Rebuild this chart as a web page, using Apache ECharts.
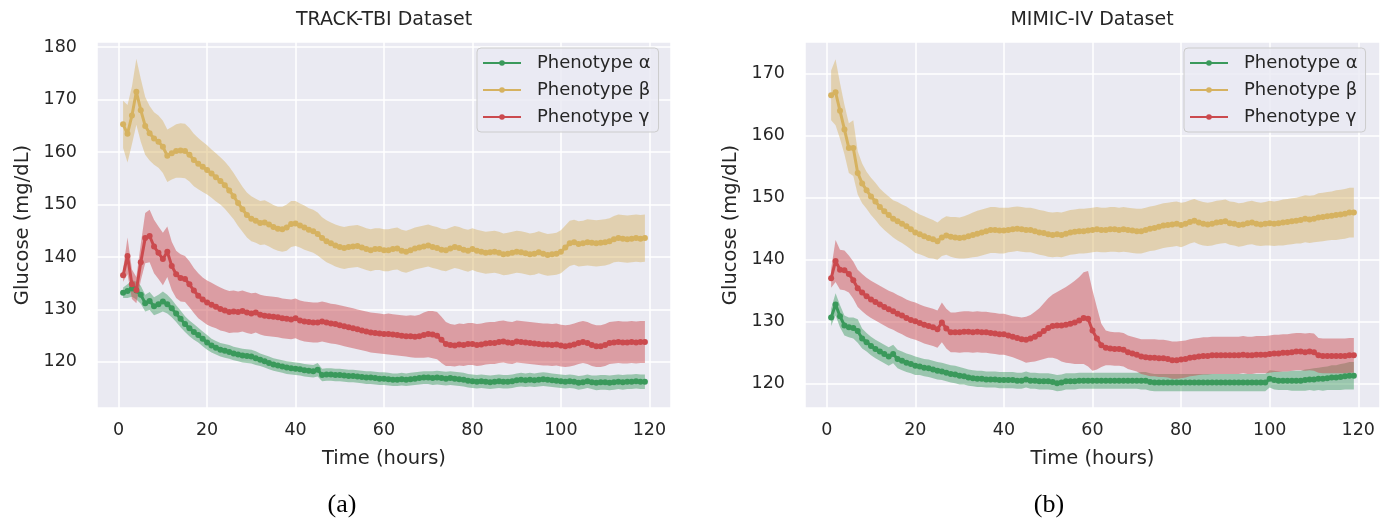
<!DOCTYPE html>
<html>
<head>
<meta charset="utf-8">
<script src="https://cdn.jsdelivr.net/npm/echarts@6/dist/echarts.min.js"></script>
<style>
  html, body { margin: 0; padding: 0; background: #ffffff; }
  #chart { width: 1386px; height: 525px; }
</style>
</head>
<body>
<div id="chart"></div>
<script>
// hours 1..119
const hours = [
  1, 2, 3, 4, 5, 6, 7, 8, 9, 10, 11, 12, 13, 14, 15, 16, 17, 18, 19, 20,
  21, 22, 23, 24, 25, 26, 27, 28, 29, 30, 31, 32, 33, 34, 35, 36, 37, 38, 39, 40,
  41, 42, 43, 44, 45, 46, 47, 48, 49, 50, 51, 52, 53, 54, 55, 56, 57, 58, 59, 60,
  61, 62, 63, 64, 65, 66, 67, 68, 69, 70, 71, 72, 73, 74, 75, 76, 77, 78, 79, 80,
  81, 82, 83, 84, 85, 86, 87, 88, 89, 90, 91, 92, 93, 94, 95, 96, 97, 98, 99, 100,
  101, 102, 103, 104, 105, 106, 107, 108, 109, 110, 111, 112, 113, 114, 115, 116, 117, 118, 119
]
const phenotypes = ['Phenotype α', 'Phenotype β', 'Phenotype γ']
const xTicks = [0, 20, 40, 60, 80, 100, 120]

// ---- TRACK-TBI (a): mean glucose and half width of the shaded band
const tbiAlpha = [
  133.2, 133.5, 134.0, 133.6, 132.8, 131.2, 131.6, 130.6, 131.0, 131.5,
  131.0, 130.2, 129.2, 128.2, 127.2, 126.4, 125.7, 125.1, 124.4, 123.7,
  123.1, 122.7, 122.3, 122.1, 121.9, 121.6, 121.4, 121.2, 121.1, 121.0,
  120.7, 120.4, 120.1, 119.8, 119.5, 119.3, 119.1, 118.9, 118.8, 118.7,
  118.6, 118.4, 118.3, 118.2, 118.5, 117.5, 117.6, 117.6, 117.5, 117.5,
  117.4, 117.3, 117.3, 117.2, 117.1, 117.0, 117.0, 116.9, 116.8, 116.8,
  116.7, 116.6, 116.6, 116.7, 116.6, 116.7, 116.8, 116.9, 117.0, 117.0,
  116.9, 117.0, 116.9, 116.8, 116.9, 116.8, 116.7, 116.6, 116.4, 116.3,
  116.2, 116.3, 116.2, 116.1, 116.2, 116.3, 116.2, 116.2, 116.3, 116.5,
  116.6, 116.5, 116.6, 116.5, 116.6, 116.7, 116.6, 116.5, 116.4, 116.3,
  116.2, 116.3, 116.2, 116.0, 116.1, 116.3, 116.1, 116.0, 116.1, 116.1,
  116.0, 116.1, 116.2, 116.1, 116.2, 116.2, 116.3, 116.2, 116.2
]
const tbiAlphaBand = [
  1.0, 1.3, 1.6, 1.7, 1.7, 1.6, 1.7, 1.7, 1.8, 1.9,
  1.8, 1.7, 1.6, 1.6, 1.5, 1.5, 1.5, 1.4, 1.4, 1.4,
  1.3, 1.3, 1.3, 1.3, 1.3, 1.3, 1.3, 1.3, 1.3, 1.3,
  1.3, 1.2, 1.2, 1.2, 1.2, 1.2, 1.2, 1.2, 1.2, 1.2,
  1.2, 1.2, 1.2, 1.2, 1.3, 1.2, 1.2, 1.2, 1.2, 1.2,
  1.2, 1.2, 1.2, 1.2, 1.2, 1.2, 1.2, 1.2, 1.2, 1.2,
  1.2, 1.2, 1.2, 1.2, 1.2, 1.2, 1.2, 1.2, 1.2, 1.2,
  1.3, 1.3, 1.3, 1.3, 1.3, 1.3, 1.3, 1.3, 1.3, 1.3,
  1.3, 1.3, 1.3, 1.3, 1.3, 1.3, 1.3, 1.3, 1.3, 1.3,
  1.3, 1.3, 1.3, 1.3, 1.3, 1.3, 1.3, 1.3, 1.3, 1.3,
  1.3, 1.3, 1.3, 1.3, 1.3, 1.3, 1.3, 1.4, 1.4, 1.4,
  1.4, 1.4, 1.4, 1.4, 1.4, 1.4, 1.4, 1.4, 1.4
]
const tbiBeta = [
  165.3, 163.5, 167.0, 171.5, 168.0, 165.0, 163.6, 162.6, 162.0, 161.0,
  159.3, 159.8, 160.2, 160.3, 160.2, 159.5, 158.5, 157.8, 157.2, 156.6,
  155.9, 155.2, 154.5, 153.7, 152.7, 151.6, 150.3, 149.1, 148.0, 147.3,
  146.9, 146.5, 146.6, 146.2, 145.7, 145.4, 145.3, 145.6, 146.3, 146.4,
  146.0, 145.6, 145.2, 144.9, 144.4, 143.6, 143.0, 142.6, 142.2, 141.9,
  141.7, 141.9, 142.0, 142.1, 141.8, 141.5, 141.3, 141.5, 141.5, 141.3,
  141.3, 141.5, 141.6, 141.2, 141.0, 141.3, 141.6, 141.8, 142.0, 142.2,
  141.9, 141.7, 141.4, 141.3, 141.6, 141.9, 141.7, 141.4, 141.2, 141.5,
  141.2, 141.0, 140.8, 140.9, 141.0, 140.8, 140.5, 140.6, 140.8, 141.0,
  140.9, 140.7, 140.5, 140.6, 140.9, 140.6, 140.4, 140.5, 140.6, 141.0,
  141.8, 142.6, 142.8, 142.5, 142.6, 142.8, 142.7, 142.6, 142.7, 142.8,
  143.0, 143.4, 143.6, 143.5, 143.4, 143.5, 143.6, 143.5, 143.6
]
const tbiBetaBand = [
  4.5, 5.5, 5.5, 6.3, 6.0, 5.5, 5.2, 5.0, 5.0, 5.0,
  5.0, 5.0, 5.1, 5.2, 5.2, 5.1, 5.0, 4.9, 4.8, 4.7,
  4.6, 4.6, 4.5, 4.5, 4.5, 4.4, 4.4, 4.3, 4.3, 4.3,
  4.2, 4.2, 4.2, 4.2, 4.2, 4.2, 4.3, 4.4, 4.4, 4.3,
  4.2, 4.2, 4.1, 4.1, 4.1, 4.0, 4.0, 4.0, 4.0, 4.0,
  4.0, 4.0, 4.0, 4.0, 4.0, 4.0, 4.0, 4.0, 4.0, 4.0,
  4.0, 4.0, 4.0, 4.0, 4.0, 4.0, 4.0, 4.0, 4.0, 4.0,
  4.0, 4.0, 4.0, 4.0, 4.0, 4.0, 4.0, 4.0, 4.0, 4.0,
  4.0, 4.0, 4.0, 4.0, 4.0, 4.0, 4.0, 4.0, 4.0, 4.0,
  4.0, 4.0, 4.0, 4.0, 4.0, 4.0, 4.0, 4.0, 4.0, 4.1,
  4.2, 4.3, 4.3, 4.3, 4.3, 4.4, 4.4, 4.4, 4.4, 4.4,
  4.4, 4.4, 4.5, 4.5, 4.5, 4.5, 4.5, 4.5, 4.5
]
const tbiGamma = [
  136.5, 140.2, 134.8, 133.7, 139.0, 143.6, 144.0, 142.0, 140.8, 139.6,
  141.0, 138.3, 136.7, 136.0, 135.8, 134.8, 133.6, 132.6, 131.9, 131.3,
  130.9, 130.5, 130.1, 129.8, 129.5, 129.6, 129.5, 129.7, 129.4, 129.2,
  129.4, 129.0, 128.8, 128.7, 128.6, 128.5, 128.3, 128.2, 128.1, 128.3,
  127.9, 127.7, 127.6, 127.5, 127.5, 127.7, 127.5, 127.3, 127.2, 127.0,
  126.8, 126.6, 126.4, 126.2, 126.0, 125.8, 125.6, 125.5, 125.4, 125.3,
  125.3, 125.2, 125.1, 125.0, 124.9, 124.9, 124.8, 124.9, 125.1, 125.3,
  125.2, 125.0, 124.2, 123.4, 123.2, 123.1, 123.3, 123.2, 123.4, 123.4,
  123.2, 123.3, 123.5, 123.6, 123.6, 123.8, 123.9, 123.7, 123.6, 123.9,
  123.8, 123.7, 123.6, 123.5, 123.4, 123.3, 123.3, 123.2, 123.3, 123.1,
  123.0, 123.1, 123.3, 123.6, 123.8, 123.6, 123.2, 123.0, 123.0, 123.2,
  123.6, 123.7, 123.8, 123.7, 123.7, 123.8, 123.7, 123.8, 123.8
]
const tbiGammaBand = [
  1.2, 3.5, 2.8, 2.5, 3.5, 4.8, 5.0, 5.1, 5.0, 5.0,
  4.8, 4.6, 4.5, 4.5, 4.4, 4.4, 4.3, 4.3, 4.2, 4.2,
  4.2, 4.1, 4.1, 4.0, 4.0, 4.0, 3.9, 3.9, 3.9, 3.9,
  3.8, 3.8, 3.8, 3.8, 3.8, 3.8, 3.8, 3.8, 3.8, 3.8,
  3.8, 3.8, 3.8, 3.8, 3.8, 3.8, 3.8, 3.8, 3.8, 3.8,
  3.8, 3.8, 3.8, 3.8, 3.8, 3.8, 3.8, 3.8, 3.8, 3.8,
  3.9, 3.9, 3.9, 3.9, 3.9, 4.0, 4.0, 4.1, 4.3, 4.4,
  4.5, 4.5, 4.4, 4.2, 4.0, 4.0, 4.0, 4.0, 4.0, 4.0,
  4.0, 4.0, 4.0, 4.0, 4.0, 4.0, 4.0, 4.0, 4.0, 4.0,
  4.0, 4.0, 4.0, 4.0, 4.0, 4.0, 4.0, 4.0, 4.0, 4.0,
  4.0, 4.0, 4.0, 4.0, 4.0, 4.0, 4.0, 4.0, 4.0, 4.0,
  4.0, 4.0, 4.0, 4.0, 4.0, 4.0, 4.0, 4.0, 4.0
]

// ---- MIMIC-IV (b)
const mimicAlpha = [
  130.7, 132.8, 130.9, 129.4, 129.1, 129.0, 128.5, 127.3, 126.7, 126.1,
  125.6, 125.2, 124.8, 124.4, 124.8, 124.0, 123.7, 123.4, 123.2, 122.9,
  122.8, 122.6, 122.5, 122.3, 122.1, 122.0, 121.8, 121.6, 121.5, 121.3,
  121.2, 121.0, 120.9, 120.8, 120.8, 120.7, 120.7, 120.7, 120.6, 120.6,
  120.6, 120.6, 120.5, 120.5, 120.7, 120.5, 120.5, 120.4, 120.4, 120.4,
  120.3, 120.1, 120.2, 120.4, 120.4, 120.4, 120.5, 120.5, 120.5, 120.5,
  120.5, 120.5, 120.5, 120.5, 120.5, 120.5, 120.5, 120.5, 120.5, 120.5,
  120.5, 120.5, 120.3, 120.2, 120.2, 120.2, 120.2, 120.2, 120.2, 120.2,
  120.2, 120.2, 120.2, 120.2, 120.2, 120.2, 120.2, 120.2, 120.2, 120.2,
  120.2, 120.2, 120.2, 120.2, 120.2, 120.2, 120.2, 120.2, 120.2, 120.8,
  120.6, 120.5, 120.5, 120.5, 120.5, 120.5, 120.5, 120.6, 120.7, 120.7,
  120.8, 120.8, 120.9, 121.0, 121.0, 121.1, 121.2, 121.3, 121.3
]
const mimicAlphaBand = [
  1.4, 1.8, 1.8, 1.6, 1.6, 1.7, 1.9, 1.6, 1.5, 1.5,
  1.5, 1.5, 1.5, 1.5, 1.5, 1.5, 1.5, 1.5, 1.5, 1.5,
  1.4, 1.4, 1.4, 1.4, 1.4, 1.4, 1.4, 1.4, 1.4, 1.4,
  1.3, 1.3, 1.3, 1.3, 1.3, 1.3, 1.3, 1.3, 1.3, 1.3,
  1.3, 1.3, 1.3, 1.3, 1.3, 1.3, 1.3, 1.3, 1.3, 1.3,
  1.3, 1.3, 1.3, 1.3, 1.3, 1.3, 1.3, 1.3, 1.3, 1.3,
  1.3, 1.3, 1.3, 1.3, 1.3, 1.3, 1.3, 1.3, 1.3, 1.3,
  1.4, 1.4, 1.4, 1.4, 1.4, 1.4, 1.4, 1.4, 1.4, 1.4,
  1.4, 1.4, 1.4, 1.4, 1.4, 1.4, 1.4, 1.4, 1.4, 1.4,
  1.4, 1.4, 1.4, 1.4, 1.4, 1.4, 1.4, 1.4, 1.4, 1.4,
  1.5, 1.5, 1.5, 1.5, 1.6, 1.6, 1.6, 1.7, 1.7, 1.8,
  1.8, 1.9, 1.9, 2.0, 2.0, 2.1, 2.1, 2.2, 2.2
]
const mimicBeta = [
  166.5, 167.0, 164.0, 161.0, 158.0, 158.0, 154.0, 152.3, 151.2, 150.2,
  149.4, 148.5, 147.8, 147.2, 146.6, 146.2, 145.8, 145.4, 144.9, 144.4,
  144.1, 143.8, 143.5, 143.3, 143.0, 143.6, 143.9, 143.7, 143.6, 143.5,
  143.6, 143.8, 144.0, 144.2, 144.4, 144.6, 144.8, 144.8, 144.7, 144.7,
  144.8, 144.9, 145.0, 144.9, 144.8, 144.8, 144.6, 144.4, 144.3, 144.1,
  144.0, 144.1, 144.0, 144.2, 144.4, 144.5, 144.6, 144.6, 144.7, 144.8,
  144.9, 144.8, 144.8, 144.9, 144.9, 144.8, 144.9, 144.8, 144.7, 144.6,
  144.6, 144.8, 145.0, 145.1, 145.3, 145.5, 145.6, 145.7, 145.8, 145.6,
  145.8, 146.1, 146.3, 146.0, 145.8, 145.7, 145.8, 146.0, 146.1, 146.2,
  145.9, 145.8, 145.6, 145.7, 145.9, 146.0, 145.8, 145.7, 145.8, 145.9,
  145.8, 145.9, 146.0, 146.1, 146.2, 146.3, 146.4, 146.6, 146.5, 146.6,
  146.8, 146.9, 147.0, 147.1, 147.2, 147.3, 147.4, 147.6, 147.6
]
const mimicBetaBand = [
  4.0, 5.3, 4.5, 4.0, 4.0, 4.5, 3.5, 3.2, 3.0, 3.0,
  3.0, 3.0, 3.0, 3.0, 3.0, 3.1, 3.1, 3.2, 3.2, 3.3,
  3.2, 3.2, 3.2, 3.1, 3.0, 3.0, 3.1, 3.2, 3.3, 3.3,
  3.4, 3.5, 3.6, 3.7, 3.7, 3.7, 3.7, 3.7, 3.7, 3.7,
  3.6, 3.6, 3.6, 3.6, 3.6, 3.6, 3.6, 3.6, 3.6, 3.6,
  3.6, 3.6, 3.6, 3.6, 3.6, 3.6, 3.6, 3.6, 3.6, 3.6,
  3.6, 3.6, 3.6, 3.6, 3.6, 3.6, 3.6, 3.6, 3.6, 3.6,
  3.6, 3.6, 3.6, 3.6, 3.6, 3.6, 3.6, 3.6, 3.6, 3.6,
  3.5, 3.5, 3.5, 3.5, 3.5, 3.5, 3.5, 3.5, 3.5, 3.5,
  3.5, 3.5, 3.5, 3.5, 3.5, 3.5, 3.5, 3.5, 3.5, 3.6,
  3.6, 3.6, 3.7, 3.7, 3.7, 3.7, 3.8, 3.8, 3.8, 3.8,
  3.9, 3.9, 3.9, 3.9, 4.0, 4.0, 4.0, 4.0, 4.0
]
const mimicGamma = [
  137.0, 139.8, 138.4, 138.3, 137.7, 136.7, 135.4, 134.7, 134.1, 133.6,
  133.2, 132.8, 132.4, 132.0, 131.7, 131.3, 131.0, 130.6, 130.3, 130.1,
  129.8, 129.5, 129.3, 129.1, 128.8, 129.9, 128.9, 128.3, 128.3, 128.3,
  128.4, 128.4, 128.3, 128.4, 128.3, 128.3, 128.2, 128.1, 128.0, 128.0,
  127.8, 127.6, 127.4, 127.2, 127.1, 127.3, 127.6, 128.0, 128.5, 129.0,
  129.3, 129.4, 129.4, 129.5, 129.7, 129.9, 130.2, 130.6, 130.5, 128.6,
  127.3, 126.2, 125.8, 125.7, 125.6, 125.6, 125.5, 125.1, 124.9, 124.7,
  124.4, 124.3, 124.2, 124.2, 124.1, 124.1, 124.0, 123.8, 123.8, 123.9,
  124.0, 124.2, 124.3, 124.4, 124.5, 124.5, 124.6, 124.6, 124.6, 124.6,
  124.6, 124.6, 124.6, 124.7, 124.6, 124.6, 124.7, 124.7, 124.7, 124.8,
  124.9, 124.9, 125.0, 125.0, 125.1, 125.2, 125.2, 125.1, 125.2, 125.1,
  124.6, 124.5, 124.5, 124.5, 124.5, 124.5, 124.5, 124.6, 124.6
]
const mimicGammaBand = [
  1.5, 3.4, 3.2, 3.2, 3.0, 3.0, 3.0, 3.0, 3.0, 3.0,
  3.0, 3.0, 3.0, 3.0, 3.0, 3.0, 3.0, 3.0, 3.0, 3.0,
  3.0, 3.0, 3.0, 3.0, 3.0, 3.2, 3.2, 3.2, 3.2, 3.3,
  3.3, 3.3, 3.3, 3.3, 3.3, 3.3, 3.3, 3.3, 3.3, 3.3,
  3.3, 3.3, 3.4, 3.5, 3.7, 3.8, 4.0, 4.2, 4.5, 4.8,
  5.1, 5.4, 5.8, 6.1, 6.4, 6.7, 7.0, 7.4, 7.7, 6.5,
  5.0, 3.5, 2.8, 2.7, 2.7, 2.7, 2.7, 2.7, 2.7, 2.7,
  2.8, 2.9, 3.0, 3.0, 3.0, 3.0, 3.0, 3.0, 3.0, 3.0,
  3.0, 3.0, 3.0, 3.0, 3.0, 3.0, 3.0, 3.0, 3.0, 3.0,
  3.0, 3.0, 3.0, 3.0, 3.0, 3.0, 3.0, 3.0, 3.0, 3.0,
  3.0, 3.0, 3.0, 3.0, 3.0, 3.0, 3.0, 3.0, 3.0, 3.0,
  2.8, 2.8, 2.8, 2.8, 2.8, 2.8, 2.8, 2.8, 2.8
]

const colors = ['#3a995b', '#d6b260', '#cb4a4e']
const bandColors = ['rgba(58,153,91,0.45)', 'rgba(214,178,96,0.45)', 'rgba(203,74,78,0.48)']
const textColor = '#262626'
const font = 'DejaVu Sans'

function bandSeries(idx, mean, hw, fill) {
  return {
    type: 'custom',
    xAxisIndex: idx,
    yAxisIndex: idx,
    silent: true,
    z: 1,
    data: [[hours[0], mean[0]]],
    renderItem: function (params, api) {
      const up = []
      const lo = []
      for (let i = 0; i < hours.length; i++) {
        up.push(api.coord([hours[i], mean[i] + hw[i]]))
        lo.push(api.coord([hours[i], mean[i] - hw[i]]))
      }
      return {
        type: 'polygon',
        shape: { points: up.concat(lo.reverse()) },
        style: { fill: fill }
      }
    }
  }
}

function lineSeries(idx, name, mean, color) {
  return {
    name: name,
    type: 'line',
    xAxisIndex: idx,
    yAxisIndex: idx,
    z: 3,
    data: hours.map((h, i) => [h, mean[i]]),
    symbol: 'circle',
    symbolSize: 6,
    showSymbol: true,
    lineStyle: { width: 3, color: color },
    itemStyle: { color: color },
    emphasis: { disabled: true }
  }
}

function xAxis(idx) {
  return {
    type: 'value',
    gridIndex: idx,
    min: -4.9,
    max: 124.9,
    minInterval: 20,
    maxInterval: 20,
    splitNumber: 6,
    axisLine: { show: false },
    axisTick: { show: false },
    axisLabel: {
      color: textColor, fontSize: 17.5, fontFamily: font, margin: 13,
      showMinLabel: false, showMaxLabel: false
    },
    splitLine: { lineStyle: { color: '#ffffff', width: 1.5 } },
    name: 'Time (hours)',
    nameLocation: 'middle',
    nameGap: 41,
    nameTextStyle: { color: textColor, fontSize: 19.5, fontFamily: font }
  }
}

function yAxis(idx, min, max) {
  return {
    type: 'value',
    gridIndex: idx,
    min: min,
    max: max,
    minInterval: 10,
    maxInterval: 10,
    splitNumber: 7,
    axisLine: { show: false },
    axisTick: { show: false },
    axisLabel: {
      color: textColor, fontSize: 17.5, fontFamily: font, margin: 20,
      showMinLabel: false, showMaxLabel: false
    },
    splitLine: { lineStyle: { color: '#ffffff', width: 1.5 } },
    name: 'Glucose (mg/dL)',
    nameLocation: 'middle',
    nameGap: 64,
    nameTextStyle: { color: textColor, fontSize: 19.5, fontFamily: font }
  }
}

function legend(left) {
  return {
    orient: 'vertical',
    left: left,
    top: 48,
    data: phenotypes,
    selectedMode: false,
    itemWidth: 38,
    itemHeight: 7,
    itemGap: 9,
    padding: [6, 8, 6, 5],
    backgroundColor: 'rgba(234,234,242,0.8)',
    borderColor: '#cccccc',
    borderWidth: 1,
    borderRadius: 4,
    textStyle: { color: textColor, fontSize: 18, fontFamily: font, padding: [0, 0, 0, 11] }
  }
}

const chart = echarts.init(document.getElementById('chart'))
chart.setOption({
  animation: false,
  backgroundColor: '#ffffff',
  title: [
    { text: 'TRACK-TBI Dataset', left: 384, top: 11, padding: 0, textAlign: 'center',
      textStyle: { color: textColor, fontSize: 19, fontWeight: 'normal', fontFamily: font } },
    { text: 'MIMIC-IV Dataset', left: 1092, top: 11, padding: 0, textAlign: 'center',
      textStyle: { color: textColor, fontSize: 19, fontWeight: 'normal', fontFamily: font } },
    { text: '(a)', left: 342, top: 492, padding: 0, textAlign: 'center',
      textStyle: { color: '#000000', fontSize: 26, fontWeight: 'normal', fontFamily: 'Liberation Serif' } },
    { text: '(b)', left: 1049, top: 492, padding: 0, textAlign: 'center',
      textStyle: { color: '#000000', fontSize: 26, fontWeight: 'normal', fontFamily: 'Liberation Serif' } }
  ],
  legend: [legend(477), legend(1184)],
  grid: [
    { left: 97, right: 715, top: 42, bottom: 117, show: true, backgroundColor: '#eaeaf2', borderWidth: 0 },
    { left: 805, right: 6, top: 42, bottom: 117, show: true, backgroundColor: '#eaeaf2', borderWidth: 0 }
  ],
  xAxis: [xAxis(0), xAxis(1)],
  yAxis: [yAxis(0, 111.2, 181), yAxis(1, 116.1, 175.1)],
  series: [
    bandSeries(0, tbiAlpha, tbiAlphaBand, bandColors[0]),
    bandSeries(0, tbiBeta, tbiBetaBand, bandColors[1]),
    bandSeries(0, tbiGamma, tbiGammaBand, bandColors[2]),
    lineSeries(0, phenotypes[0], tbiAlpha, colors[0]),
    lineSeries(0, phenotypes[1], tbiBeta, colors[1]),
    lineSeries(0, phenotypes[2], tbiGamma, colors[2]),
    bandSeries(1, mimicAlpha, mimicAlphaBand, bandColors[0]),
    bandSeries(1, mimicBeta, mimicBetaBand, bandColors[1]),
    bandSeries(1, mimicGamma, mimicGammaBand, bandColors[2]),
    lineSeries(1, phenotypes[0], mimicAlpha, colors[0]),
    lineSeries(1, phenotypes[1], mimicBeta, colors[1]),
    lineSeries(1, phenotypes[2], mimicGamma, colors[2])
  ]
})
</script>
</body>
</html>
